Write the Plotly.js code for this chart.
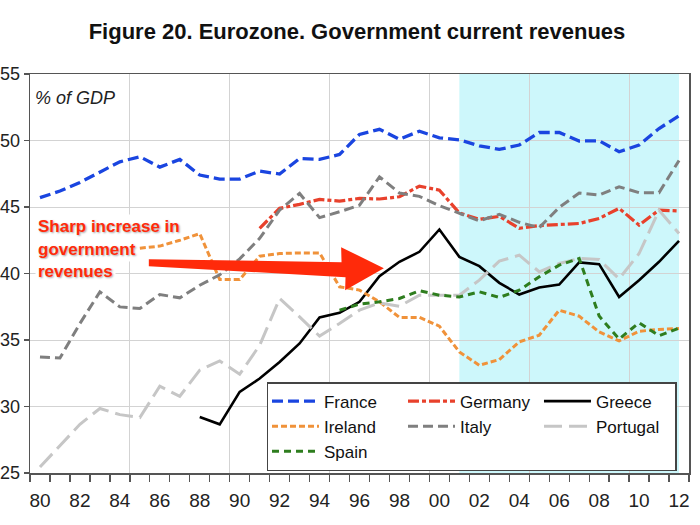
<!DOCTYPE html>
<html><head><meta charset="utf-8">
<script src="https://cdn.plot.ly/plotly-3.0.1.min.js"></script>
<style>html,body{margin:0;padding:0;background:#fff}</style>
</head><body><div id="chart" style="width:700px;height:525px"></div>
<script>
const years = [1980,1981,1982,1983,1984,1985,1986,1987,1988,1989,1990,1991,1992,1993,1994,1995,1996,1997,1998,1999,2000,2001,2002,2003,2004,2005,2006,2007,2008,2009,2010,2011,2012];
const france   = [45.7,46.2,46.85,47.65,48.4,48.78,48.0,48.58,47.4,47.1,47.1, 47.7,47.48,48.65,48.58,48.95,50.46,50.84,50.1,50.7,50.2, 50.05,49.6,49.33,49.66,50.6,50.6,49.96,49.98,49.15,49.66,50.9,51.86];
const germany  = [null,null,null,null,null,null,null,null,null,null,null, 43.4,44.9,45.2,45.57,45.44,45.65,45.6,45.77,46.57,46.27, 44.55,44.07,44.3,43.4,43.6,43.7,43.76,44.14,44.9,43.64,44.77,44.7];
const greece   = [null,null,null,null,null,null,null,null,29.21,28.66,31.1, 32.1,33.35,34.74,36.69,37.04,37.87,39.8,40.88,41.63,43.31, 41.25,40.55,39.3,38.42,38.95,39.17,40.83,40.7,38.24,39.5,40.88,42.46];
const ireland  = [null,null,null,null,null,41.9,42.06,42.5,43.0,39.55,39.55, 41.3,41.5,41.55,41.55,39.0,38.75,37.87,36.7,36.7,36.04, 34.1,33.1,33.53,34.86,35.36,37.24,36.79,35.61,34.93,35.66,35.79,35.86];
const italy    = [33.73,33.65,36.24,38.62,37.49,37.37,38.42,38.17,39.12,39.9,41.1, 42.64,44.77,46.02,44.2,44.64,45.14,47.27,46.05,45.8,45.1, 44.5,43.96,44.45,43.85,43.45,44.97,46.05,45.9,46.52,46.08,46.08,48.5];
const portugal = [25.45,27.03,28.66,29.85,29.39,29.17,31.52,30.77,32.73,33.43,32.43, 34.6,38.12,36.74,35.29,36.24,37.24,37.79,37.54,38.37,38.37, 38.37,39.5,40.93,41.38,40.13,40.75,41.13,41.05,39.6,41.5,44.75,43.0];
const spain    = [null,null,null,null,null,null,null,null,null,null,null, null,null,null,null,37.24,37.7,37.87,38.12,38.7,38.37, 38.24,38.62,38.2,38.75,39.75,40.63,41.13,36.8,35.07,36.3,35.32,35.9];

const tickYears = [1980,1982,1984,1986,1988,1990,1992,1994,1996,1998,2000,2002,2004,2006,2008,2010,2012];
const tickLabels = ['80','82','84','86','88','90','92','94','96','98','00','02','04','06','08','10','12'];
const yTicks = [25,30,35,40,45,50,55];
const gridYears = [1984.5,1989.5,1994.5,1999.5,2004.5,2009.5];
const shadeFrom = 2001, shadeTo = 2012;
const noteLines = ['Sharp increase in','government','revenues'];

const seriesDefs = [
  {name:'France',   y:france,   color:'#1a45e0', dash:'11px,5px', width:3.3, group:'c1'},
  {name:'Germany',  y:germany,  color:'#e8412c', dash:'11px,3px,4px,3px', width:3.2, group:'c2'},
  {name:'Greece',   y:greece,   color:'#000000', dash:'solid', width:2.6, group:'c3'},
  {name:'Ireland',  y:ireland,  color:'#f0923a', dash:'6px,3px', width:3, group:'c1'},
  {name:'Italy',    y:italy,    color:'#7f7f7f', dash:'10px,5px', width:3, group:'c2'},
  {name:'Portugal', y:portugal, color:'#c6c6c6', dash:'18px,7px', width:3, group:'c3'},
  {name:'Spain',    y:spain,    color:'#2e7d1e', dash:'7px,5px', width:3, group:'c1'}
];

const traces = seriesDefs.map(s => ({
  type:'scatter', mode:'lines', name:s.name, x:years, y:s.y,
  line:{color:s.color, dash:s.dash, width:s.width}, connectgaps:false,
  legendgroup:s.group, hoverinfo:'skip'
}));
traces.push({type:'scatter', mode:'lines', x:[], y:[], xaxis:'x2', yaxis:'y', showlegend:false, hoverinfo:'skip'});

// arrow outline (annotation geometry, in axis units)
const arrowX = [1985.45,1995.1,1995.08,1997.22,1995.28,1995.3,1985.45];
const arrowY = [41.08,40.85,41.98,40.40,38.75,39.72,40.55];
const arrowPath = 'M' + arrowX.map((x,i)=> x + ',' + arrowY[i]).join(' L') + ' Z';

const font = 'Liberation Sans, Arial, sans-serif';
const noteY = [0.619, 0.5614, 0.5038];
const noteAnns = noteLines.map((t,i)=>({
  text:'<b>'+t+'</b>', xref:'paper', yref:'paper', x:0.0075, y:noteY[i], xanchor:'left', yanchor:'middle',
  align:'left', showarrow:false, bgcolor:'#ffffff', borderpad:2,
  font:{family:font, size:17, color:'#ff2a0a', shadow:'1px 1px 2px rgba(0,0,0,0.35)'}
}));

const layout = {
  width:700, height:525,
  margin:{l:30, r:11, t:74, b:52},
  paper_bgcolor:'#ffffff', plot_bgcolor:'#ffffff',
  font:{family:font, color:'#111', size:19},
  title:{text:'<b>Figure 20. Eurozone. Government current revenues</b>', font:{family:font, size:22, color:'#111'},
         x:0.51, xanchor:'center', xref:'container', y:0.94, yanchor:'middle', yref:'container'},
  xaxis:{range:[1979.5,2012.5], tickmode:'array', tickvals:tickYears, ticktext:tickLabels,
         ticks:'outside', ticklen:0, showgrid:false, zeroline:false, showline:true, linecolor:'#555', linewidth:1.5,
         mirror:true, tickfont:{size:19, color:'#222'}, ticklabelstandoff:10,
         minor:{tickmode:'linear', tick0:1979.5, dtick:1, ticks:'outside', ticklen:7, tickcolor:'#555', tickwidth:1.3, showgrid:false},
         automargin:false, fixedrange:true},
  xaxis2:{overlaying:'x', anchor:'y', range:[1979.5,2012.5], tickmode:'array', tickvals:gridYears,
          showgrid:true, gridcolor:'#d3d3d3', gridwidth:1, ticks:'', showticklabels:false, showline:false, zeroline:false, automargin:false},
  yaxis:{range:[25,55], tickmode:'array', tickvals:yTicks, ticks:'outside', ticklen:5, tickcolor:'#555', tickwidth:1.3,
         showgrid:true, gridcolor:'#d3d3d3', gridwidth:1, zeroline:false, showline:true, linecolor:'#555', linewidth:1.5,
         mirror:true, tickfont:{size:18, color:'#222'}, ticklabelstandoff:0, automargin:false, fixedrange:true},
  shapes:[
    {type:'rect', xref:'x', yref:'paper', x0:shadeFrom, x1:shadeTo, y0:0, y1:1, fillcolor:'#cdf7fb', line:{width:0}, layer:'below'},
    {type:'path', xref:'x', yref:'y', path:arrowPath, fillcolor:'#ff2a0a', line:{width:0}, layer:'above'}
  ],
  annotations:[
    {text:'<i>% of GDP</i>', xref:'paper', yref:'paper', x:0.005, y:0.94, xanchor:'left', yanchor:'middle', showarrow:false,
     font:{family:font, size:18, color:'#222'}}
  ].concat(noteAnns),
  legend:{x:0.3596, y:0.228, xanchor:'left', yanchor:'top', orientation:'h', bgcolor:'#ffffff',
          bordercolor:'#444', borderwidth:1.5, font:{family:font, size:17, color:'#111'},
          itemwidth:47, entrywidth:74, entrywidthmode:'pixels', tracegroupgap:0, traceorder:'grouped'},
  showlegend:true
};

Plotly.newPlot('chart', traces, layout, {staticPlot:true, displayModeBar:false});
</script></body></html>
